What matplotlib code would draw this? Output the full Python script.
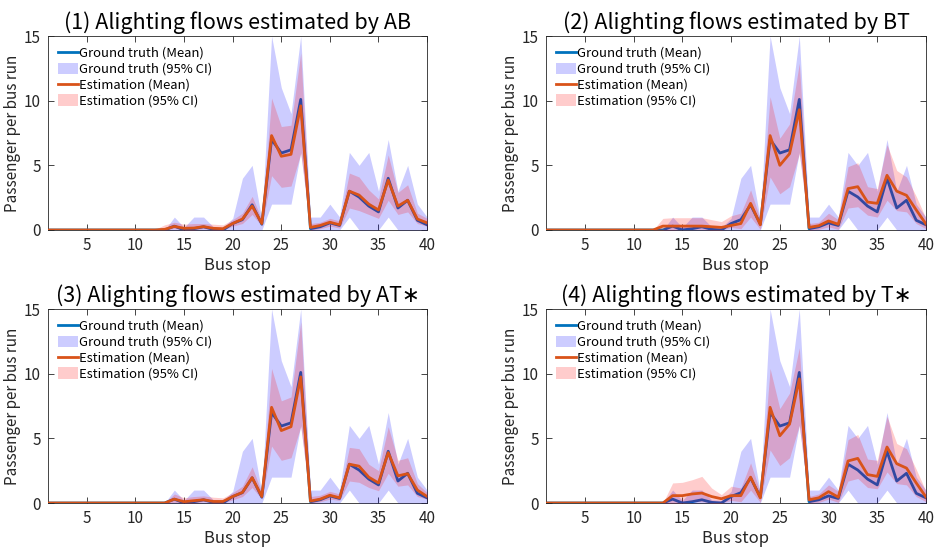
import matplotlib
matplotlib.use("Agg")
import matplotlib.pyplot as plt
import numpy as np
from matplotlib.patches import Patch
from matplotlib.lines import Line2D

plt.rcParams['font.family'] = ['Noto Sans CJK JP', 'DejaVu Sans']

stops = np.arange(1, 41)
z12 = [0.0] * 12
z13 = [0.0] * 13

# ground truth (same in every panel)
gt_mean = z12 + [0.0, 0.3, 0.0, 0.1, 0.25, 0.05, 0.0, 0.5, 0.8, 1.95, 0.45, 7.0, 5.95, 6.2, 10.1,
                 0.1, 0.25, 0.55, 0.35, 3.0, 2.55, 1.85, 1.4, 4.0, 1.7, 2.3, 0.75, 0.4]
gt_lo = z12 + [0.0, 0.0, 0.0, 0.0, 0.0, 0.0, 0.0, 0.0, 0.0, 0.0, 0.0, 2.0, 2.0, 2.0, 6.0,
               0.0, 0.0, 0.0, 0.0, 1.0, 0.0, 0.0, 0.0, 1.0, 0.0, 0.0, 0.0, 0.0]
gt_hi = z12 + [0.0, 1.0, 0.2, 1.0, 1.0, 0.25, 0.2, 0.9, 4.0, 5.0, 0.8, 15.0, 11.0, 9.0, 15.0,
               1.0, 1.0, 2.0, 1.0, 6.0, 5.0, 6.0, 3.0, 7.0, 3.0, 5.0, 2.0, 1.0]

# AB
ab_mean = z12 + [0.05, 0.28, 0.13, 0.15, 0.26, 0.13, 0.1, 0.5, 0.85, 1.85, 0.5, 7.3, 5.7, 5.85, 9.6,
                 0.2, 0.35, 0.6, 0.4, 3.0, 2.7, 2.0, 1.55, 3.85, 1.85, 2.3, 0.85, 0.55]
ab_lo = z12 + [0.0, 0.1, 0.0, 0.0, 0.1, 0.0, 0.0, 0.3, 0.5, 1.2, 0.3, 4.2, 3.3, 3.4, 5.9,
               0.0, 0.1, 0.3, 0.15, 1.7, 1.5, 1.2, 0.9, 2.3, 1.2, 1.4, 0.5, 0.3]
ab_hi = [0.0] * 11 + [0.05, 0.4, 0.6, 0.45, 0.5, 0.5, 0.45, 0.4, 0.8, 1.3, 2.6, 0.8, 10.2, 8.0, 8.1, 13.7,
                      0.5, 0.6, 0.9, 0.7, 4.4, 4.1, 3.1, 2.4, 5.8, 2.9, 3.5, 1.3, 0.9]

# BT
bt_mean = z12 + [0.3, 0.3, 0.3, 0.3, 0.3, 0.25, 0.2, 0.35, 0.5, 2.06, 0.4, 7.3, 5.0, 5.9, 9.3,
                 0.2, 0.33, 0.7, 0.44, 3.2, 3.35, 2.16, 2.06, 4.23, 3.0, 2.68, 1.55, 0.46]
bt_lo = z12 + [0.0, 0.0, 0.05, 0.05, 0.05, 0.0, 0.0, 0.2, 0.1, 1.0, 0.05, 4.1, 2.8, 3.35, 5.9,
               0.0, 0.05, 0.25, 0.05, 1.7, 1.8, 1.15, 1.0, 2.3, 1.5, 1.4, 0.5, 0.1]
bt_hi = z12 + [0.9, 0.95, 0.95, 0.95, 0.95, 0.8, 0.65, 1.1, 1.3, 3.1, 0.8, 10.3, 7.1, 8.2, 12.9,
               0.5, 0.6, 1.3, 0.8, 4.9, 5.2, 3.35, 3.2, 6.6, 4.6, 4.1, 2.6, 0.9]

# AT*
at_mean = z13 + [0.3, 0.1, 0.18, 0.25, 0.12, 0.12, 0.5, 0.82, 1.96, 0.5, 7.4, 5.6, 5.9, 9.75,
                 0.15, 0.3, 0.6, 0.4, 3.0, 2.85, 2.0, 1.55, 3.9, 2.1, 2.27, 1.0, 0.5]
at_lo = z13 + [0.05, 0.0, 0.0, 0.1, 0.0, 0.0, 0.25, 0.5, 1.2, 0.3, 4.4, 3.3, 3.5, 5.9,
               0.0, 0.1, 0.3, 0.2, 1.7, 1.6, 1.2, 0.95, 2.3, 1.3, 1.4, 0.5, 0.3]
at_hi = z13 + [0.7, 0.4, 0.5, 0.55, 0.45, 0.4, 0.8, 1.3, 2.8, 0.8, 10.4, 7.9, 8.2, 14.0,
               0.5, 0.6, 0.9, 0.7, 4.3, 4.2, 3.0, 2.5, 5.9, 3.3, 3.5, 1.5, 0.8]

# T*
t_mean = z13 + [0.57, 0.57, 0.7, 0.77, 0.5, 0.33, 0.57, 0.57, 2.0, 0.4, 7.4, 5.2, 6.1, 9.6,
                0.25, 0.4, 0.88, 0.45, 3.25, 3.45, 2.2, 2.06, 4.33, 3.04, 2.7, 1.55, 0.46]
t_lo = z13 + [0.0, 0.0, 0.1, 0.1, 0.0, 0.0, 0.2, 0.1, 1.0, 0.05, 4.1, 2.9, 3.5, 6.0,
              0.0, 0.05, 0.3, 0.05, 1.7, 1.9, 1.2, 1.1, 2.4, 1.5, 1.4, 0.5, 0.1]
t_hi = z13 + [1.55, 1.6, 1.8, 2.06, 1.16, 0.65, 1.3, 1.16, 3.1, 0.8, 10.4, 7.3, 8.5, 12.0,
              0.5, 0.7, 1.4, 0.9, 4.9, 5.3, 3.4, 3.3, 6.7, 4.6, 4.2, 2.6, 0.9]

titles = ["(1) Alighting flows estimated by AB",
          "(2) Alighting flows estimated by BT",
          "(3) Alighting flows estimated by AT\u2217",
          "(4) Alighting flows estimated by T\u2217"]
estimates = [(ab_mean, ab_lo, ab_hi), (bt_mean, bt_lo, bt_hi),
             (at_mean, at_lo, at_hi), (t_mean, t_lo, t_hi)]

BLUE = "#0072BD"
RED = "#D95319"
GT_FILL = (0, 0, 1, 0.2)
EST_FILL = (1, 0, 0, 0.2)
INK = "#262626"

fig = plt.figure(figsize=(9.36, 5.48), dpi=100)
positions = [[0.0513, 0.5803, 0.405, 0.354], [0.5833, 0.5803, 0.406, 0.354],
             [0.0513, 0.0821, 0.405, 0.354], [0.5833, 0.0821, 0.406, 0.354]]

for pos, title, (m, lo, hi) in zip(positions, titles, estimates):
    ax = fig.add_axes(pos)
    ax.plot(stops, gt_mean, color=BLUE, lw=2, zorder=2)
    ax.fill_between(stops, gt_lo, gt_hi, color=GT_FILL, lw=0, zorder=3)
    ax.fill_between(stops, lo, hi, color=EST_FILL, lw=0, zorder=4)
    ax.plot(stops, m, color=RED, lw=2, zorder=5)

    ax.set_xlim(1, 40)
    ax.set_ylim(0, 15)
    ax.set_xticks([5, 10, 15, 20, 25, 30, 35, 40])
    ax.set_yticks([0, 5, 10, 15])
    ax.tick_params(direction='in', top=True, right=True, length=4, width=0.6,
                   colors=INK, labelsize=11, pad=5)
    for sp in ax.spines.values():
        sp.set_color(INK)
        sp.set_linewidth(0.6)
    ax.set_title(title, fontsize=15.5, color='black', pad=5)
    ax.set_xlabel("Bus stop", fontsize=12, color=INK, labelpad=2)
    ax.set_ylabel("Passenger per bus run", fontsize=11, color=INK, labelpad=2)

    handles = [Line2D([], [], color=BLUE, lw=2),
               Patch(facecolor=GT_FILL, lw=0),
               Line2D([], [], color=RED, lw=2),
               Patch(facecolor=EST_FILL, lw=0)]
    labels = ["Ground truth (Mean)", "Ground truth (95% CI)",
              "Estimation (Mean)", "Estimation (95% CI)"]
    ax.legend(handles, labels, loc='upper left', frameon=False, fontsize=9.4,
              handlelength=1.55, handleheight=1.0, handletextpad=0.1,
              labelspacing=0.2, borderaxespad=0.0, borderpad=0.0,
              bbox_to_anchor=(0.026, 0.945))

fig.savefig("out.png", dpi=100)
